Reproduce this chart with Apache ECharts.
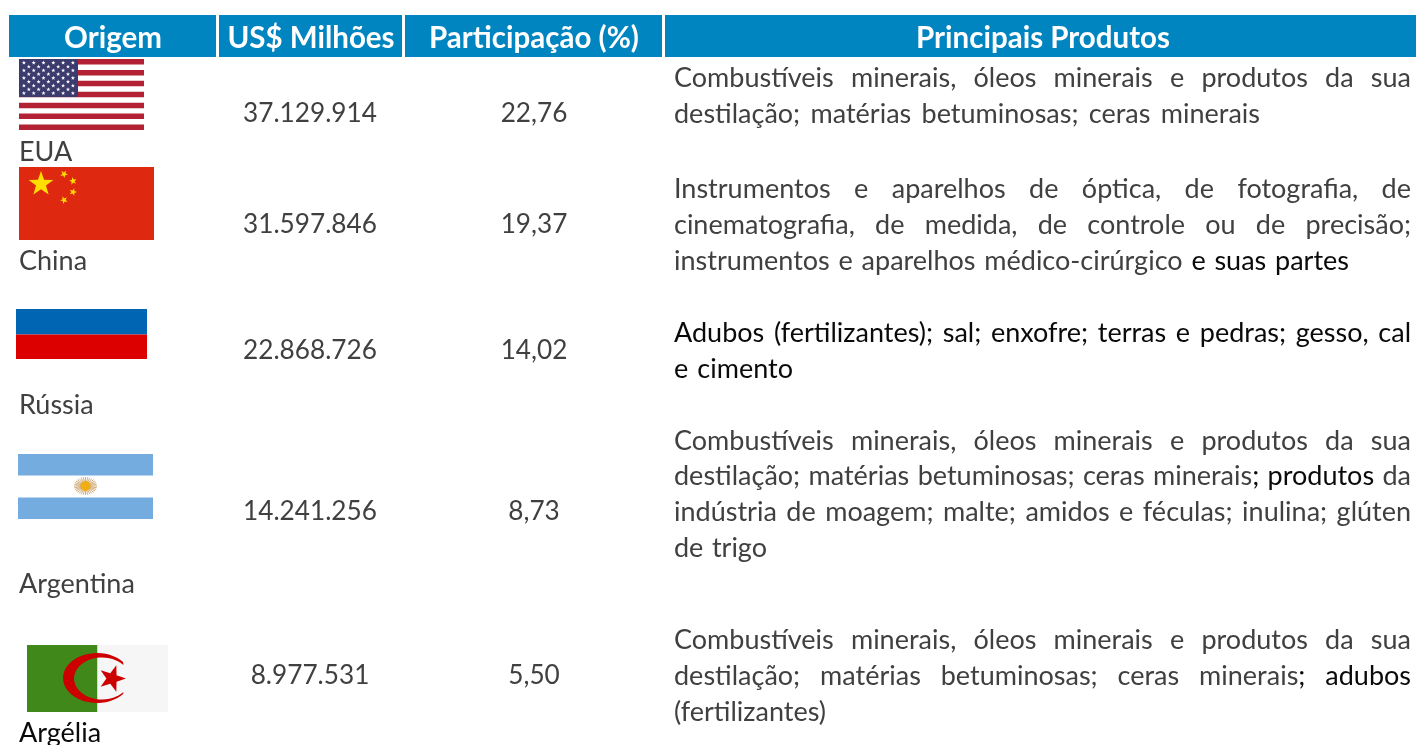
<!DOCTYPE html>
<html>
<head>
<meta charset="utf-8">
<style>
html,body{margin:0;padding:0;background:#fff;}
#main{width:1416px;height:745px;}
</style>
<script src="https://cdn.jsdelivr.net/npm/echarts@6/dist/echarts.min.js"></script>
</head>
<body>
<div id="main"></div>
<script>
var headers = ['Origem', 'US$ Milhões', 'Participação (%)', 'Principais Produtos'];
var origins = ['EUA', 'China', 'Rússia', 'Argentina', 'Argélia'];
var milhoes = ['37.129.914', '31.597.846', '22.868.726', '14.241.256', '8.977.531'];
var shares = ['22,76', '19,37', '14,02', '8,73', '5,50'];
// ^ marks where the darker (black) part of a word starts
var products = [
    ['Combustíveis minerais, óleos minerais e produtos da sua',
     'destilação; matérias betuminosas; ceras minerais'],
    ['Instrumentos e aparelhos de óptica, de fotografia, de',
     'cinematografia, de medida, de controle ou de precisão;',
     'instrumentos e aparelhos médico-cirúrgico ^e ^suas ^partes'],
    ['^Adubos ^(fertilizantes); ^sal; ^enxofre; ^terras ^e ^pedras; ^gesso, ^cal',
     '^e ^cimento'],
    ['Combustíveis minerais, óleos minerais e produtos da sua',
     'destilação; matérias betuminosas; ceras minerais^; ^produtos da',
     'indústria de moagem; malte; amidos e féculas; inulina; glúten',
     'de trigo'],
    ['Combustíveis minerais, óleos minerais e produtos da sua',
     'destilação; matérias betuminosas; ceras minerais^; ^adubos',
     '(fertilizantes)']
];

// layout of the table
var headerBoxes = [[9, 216], [219, 402], [405, 662], [665, 1416]];
var headerCenters = [113, 311, 534, 1043];
var rowY = [114, 225, 351, 512, 676];
var originY = [152, 261, 405, 584, 733];
var lineY = [[78, 114], [189, 225, 261], [333, 369], [441, 476, 512, 548], [640, 676, 712]];
var lineEnd = [[1411, 1260], [1411, 1411, 1349], [1411, 793], [1411, 1411, 1411, 767], [1411, 1411, 832]];

var FONT = 'Lato';
var BODY = 27;
var NUMBER = 26.2;
var GREY = '#404040';
var BLACK = '#0a0a0a';

var ctx = document.createElement('canvas').getContext('2d');
function textW(s, font) {
    ctx.font = font;
    return ctx.measureText(s).width;
}

var els = [];

function rect(x, y, w, h, color) {
    els.push({type: 'rect', shape: {x: x, y: y, width: w, height: h}, style: {fill: color}});
}
function label(s, x, y, color, size, weight, align) {
    els.push({
        type: 'text', x: x, y: y,
        style: {
            text: s, fill: color, align: align || 'left', verticalAlign: 'middle',
            font: (weight || 'normal') + ' ' + size + 'px ' + FONT
        }
    });
}
function star(cx, cy, r, color, rot) {
    var pts = [];
    var start = rot === undefined ? -90 : rot;
    for (var i = 0; i < 10; i++) {
        var rr = i % 2 ? r * 0.4 : r;
        var a = start * Math.PI / 180 + i * Math.PI / 5;
        pts.push([cx + rr * Math.cos(a), cy + rr * Math.sin(a)]);
    }
    els.push({type: 'polygon', shape: {points: pts}, style: {fill: color}});
}
// ellipse arc from angle a0 to a1 (degrees), used for the crescent
function arcPts(cx, cy, rx, ry, a0, a1) {
    var pts = [];
    for (var i = 0; i <= 40; i++) {
        var a = (a0 + (a1 - a0) * i / 40) * Math.PI / 180;
        pts.push([cx + rx * Math.cos(a), cy + ry * Math.sin(a)]);
    }
    return pts;
}

function drawUsa() {
    var h = 71 / 13;
    rect(19, 59, 125, 71, '#fff');
    for (var i = 0; i < 13; i += 2) {
        rect(19, 59 + i * h, 125, h, '#B22234');
    }
    rect(19, 59, 59, 38, '#3C3B6E');
    for (var row = 0; row < 9; row++) {
        var n = row % 2 ? 5 : 6;
        for (var c = 0; c < n; c++) {
            var off = row % 2 ? 2 : 1;
            star(19 + (2 * c + off) * 4.9, 59 + (row + 1) * 3.8, 2.2, '#fff');
        }
    }
}
function drawChina() {
    rect(19, 167, 135, 73, '#DE2910');
    star(41, 184, 13, '#FFDE00');
    star(64, 174, 4, '#FFDE00', -60);
    star(73, 181, 4, '#FFDE00', -30);
    star(73, 192, 4, '#FFDE00', 0);
    star(64, 200, 4, '#FFDE00', 30);
}
function drawRussia() {
    rect(16, 309, 131, 25.5, '#0066B3');
    rect(16, 334.5, 131, 24.5, '#DD0000');
}
function drawArgentina() {
    rect(18, 454, 135, 21.5, '#74ACDF');
    rect(18, 497.5, 135, 21.5, '#74ACDF');
    for (var i = 0; i < 32; i++) {
        var a = i * Math.PI / 16;
        els.push({
            type: 'line',
            shape: {x1: 85.5, y1: 486, x2: 85.5 + 11.5 * Math.cos(a), y2: 486 + 9 * Math.sin(a)},
            style: {stroke: '#C89A5E', lineWidth: 0.8}
        });
    }
    els.push({type: 'circle', shape: {cx: 85.5, cy: 486, r: 5}, style: {fill: '#F0AE14'}});
}
function drawAlgeria() {
    rect(27, 645, 70.5, 67, '#41881A');
    rect(97.5, 645, 70.5, 67, '#F6F6F6');
    var outer = arcPts(97, 678, 34, 25, -40, -320);
    var inner = arcPts(102, 678.5, 28, 21, -320, -40);
    els.push({
        type: 'polygon',
        shape: {points: outer.concat(inner)},
        style: {fill: '#CC0000'}
    });
    star(112, 678.5, 14, '#CC0000', 0);
}

// one product line, words spread so the line ends at endX
function drawLine(text, y, endX) {
    var font = 'normal ' + BODY + 'px ' + FONT;
    var words = text.split(' ');
    var total = 0;
    words.forEach(function (w) { total += textW(w.replace(/\^/g, ''), font); });
    var gap = words.length > 1 ? (endX - 674 - total) / (words.length - 1) : 0;
    var x = 674;
    words.forEach(function (w) {
        var k = w.indexOf('^');
        var head = k < 0 ? w : w.slice(0, k);
        var tail = k < 0 ? '' : w.slice(k + 1);
        if (head) {
            label(head, x, y, GREY, BODY);
            x += textW(head, font);
        }
        if (tail) {
            label(tail, x, y, BLACK, BODY);
            x += textW(tail, font);
        }
        x += gap;
    });
}

headers.forEach(function (h, i) {
    var b = headerBoxes[i];
    rect(b[0], 15, b[1] - b[0], 42, '#0085C1');
    label(h, headerCenters[i], 38, '#fff', 29.5, 'bold', 'center');
});

drawUsa();
drawChina();
drawRussia();
drawArgentina();
drawAlgeria();

origins.forEach(function (name, i) {
    label(name, 19, originY[i], i === 4 ? BLACK : GREY, BODY);
    label(milhoes[i], 310, rowY[i], GREY, NUMBER, 'normal', 'center');
    label(shares[i], 534, rowY[i], GREY, NUMBER, 'normal', 'center');
    products[i].forEach(function (line, j) {
        drawLine(line, lineY[i][j], lineEnd[i][j]);
    });
});

var chart = echarts.init(document.getElementById('main'));
chart.setOption({
    backgroundColor: '#fff',
    animation: false,
    graphic: {elements: els}
});
</script>
</body>
</html>
